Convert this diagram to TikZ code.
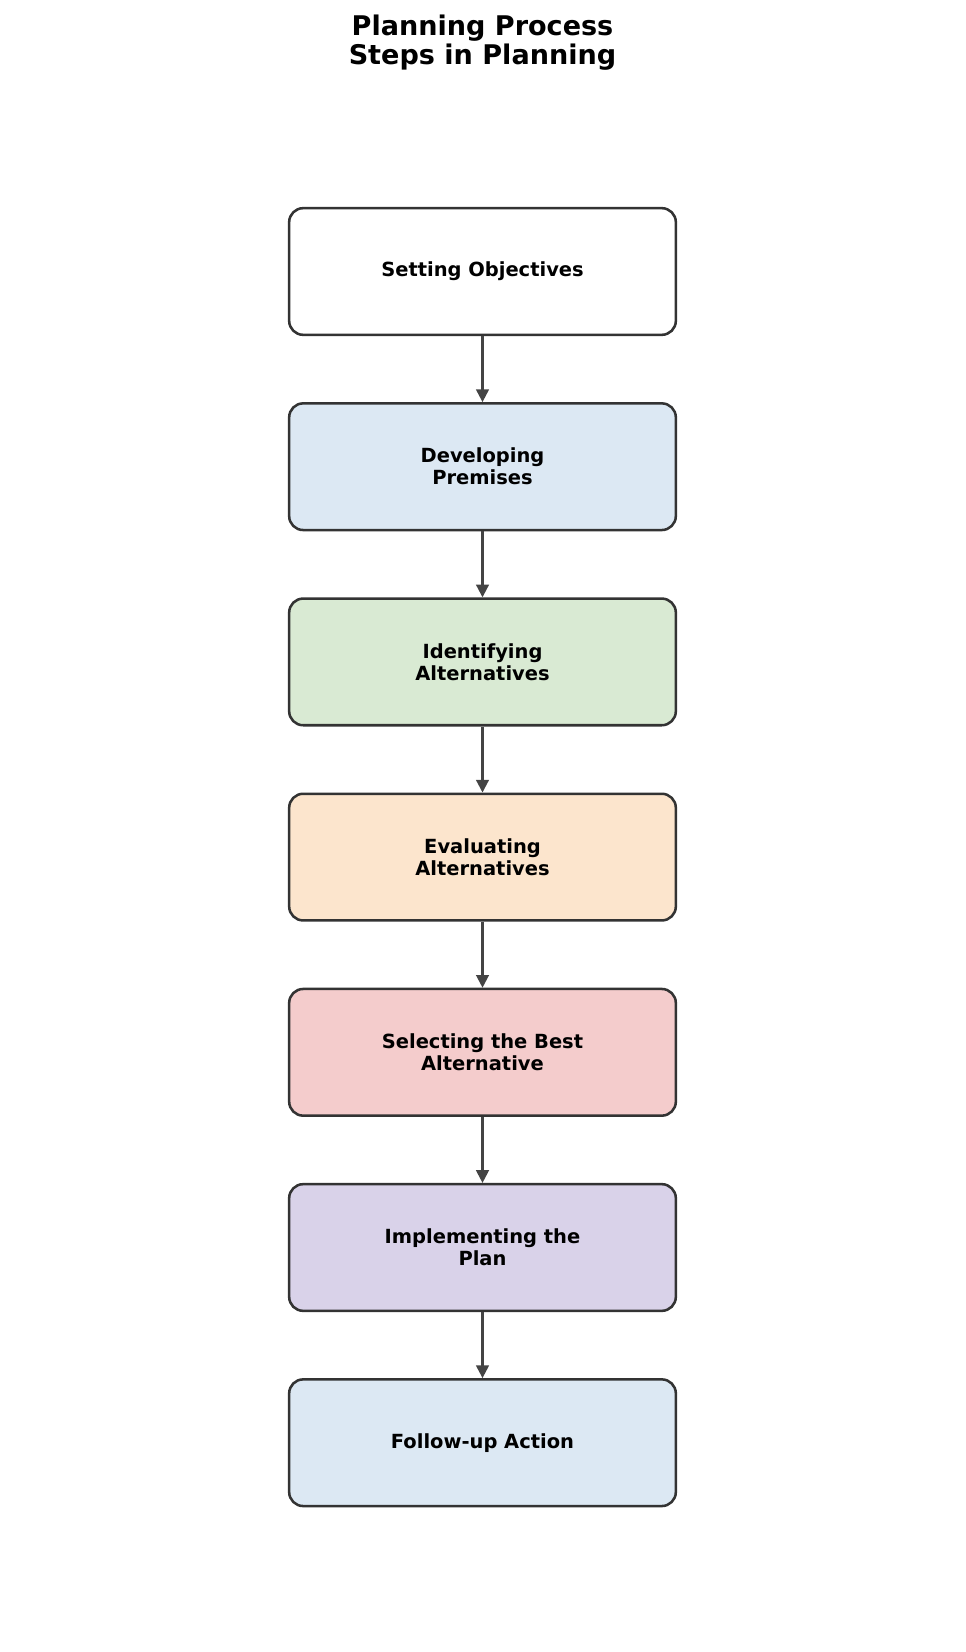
\documentclass[tikz,border=0pt]{standalone}
\usepackage{fontspec}
\setmainfont{DejaVu Sans}
\usetikzlibrary{arrows.meta,positioning}
\definecolor{edgegray}{RGB}{51,51,51}
\definecolor{arrgray}{RGB}{68,68,68}
\definecolor{cblue}{RGB}{220,232,243}
\definecolor{cgreen}{RGB}{217,234,211}
\definecolor{corange}{RGB}{252,229,205}
\definecolor{cred}{RGB}{244,204,204}
\definecolor{cpurple}{RGB}{217,210,233}
\tikzset{
  stepbox/.style={draw=edgegray, line width=1.9pt, rounded corners=10.5pt,
    minimum width=290pt, minimum height=95pt, align=center,
    font=\fontsize{14.6pt}{16.5pt}\selectfont\bfseries},
  flowarr/.style={-{Triangle[length=9.5pt, width=9.5pt]}, arrgray, line width=1.6pt},
  ttl/.style={font=\fontsize{20.3pt}{22.2pt}\selectfont\bfseries, align=center},
}

\begin{document}
\begin{tikzpicture}[x=0.75pt, y=-0.75pt, node distance=49.5pt]
\useasboundingbox (0,0) rectangle (965,1652);
\node[ttl] (title) at (482.5,42.5) {Planning Process\\Steps in Planning};
\node[stepbox, fill=white] (objectives) at (482.5,271.5) {Setting Objectives};
\node[stepbox, fill=cblue, below=of objectives] (premises) {Developing\\Premises};
\node[stepbox, fill=cgreen, below=of premises] (identify) {Identifying\\Alternatives};
\node[stepbox, fill=corange, below=of identify] (evaluate) {Evaluating\\Alternatives};
\node[stepbox, fill=cred, below=of evaluate] (select) {Selecting the Best\\Alternative};
\node[stepbox, fill=cpurple, below=of select] (implement) {Implementing the\\Plan};
\node[stepbox, fill=cblue, below=of implement] (followup) {Follow-up Action};
% connectors
\foreach \a/\b in {objectives/premises, premises/identify, identify/evaluate,
    evaluate/select, select/implement, implement/followup}
  \draw[flowarr] (\a.south) -- (\b.north);
\end{tikzpicture}
\end{document}
